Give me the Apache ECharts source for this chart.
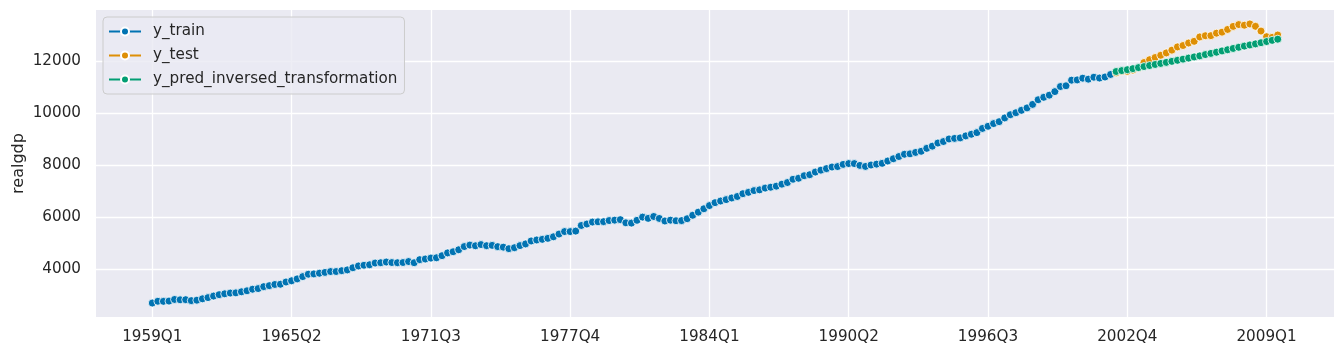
<!DOCTYPE html>
<html>
<head>
<meta charset="utf-8">
<script src="https://cdn.jsdelivr.net/npm/echarts@6/dist/echarts.min.js"></script>
<style>html,body{margin:0;padding:0;background:#fff}#c{width:1344px;height:356px}</style>
</head>
<body>
<div id="c"></div>
<script>
// realgdp by quarter, 1959Q1 .. 2002Q1 (train)
const yTrain = [
2710.349,2778.801,2775.488,2785.204,
2847.699,2834.390,2839.022,2802.616,
2819.264,2872.005,2918.419,2977.830,
3031.241,3064.709,3093.047,3100.563,
3141.087,3180.447,3240.332,3264.967,
3338.246,3376.587,3422.469,3431.957,
3516.251,3563.960,3636.285,3724.014,
3815.423,3828.124,3853.301,3884.520,
3918.740,3919.556,3950.826,3980.970,
4063.013,4131.998,4160.267,4178.293,
4244.100,4256.460,4283.378,4263.261,
4256.573,4264.289,4302.259,4256.637,
4374.016,4398.829,4433.943,4446.264,
4525.769,4633.101,4677.503,4754.046,
4876.166,4932.571,4906.252,4953.050,
4909.617,4922.188,4873.520,4854.340,
4795.295,4831.942,4913.328,4977.511,
5090.695,5128.947,5154.072,5191.499,
5251.762,5356.131,5451.921,5450.793,
5469.405,5684.569,5740.300,5816.222,
5825.949,5831.418,5873.335,5889.495,
5908.467,5787.373,5776.617,5883.026,
6005.717,5957.795,6030.184,5955.062,
5857.333,5889.074,5866.370,5871.001,
5944.020,6077.619,6197.468,6325.574,
6448.264,6559.594,6623.343,6677.264,
6740.275,6797.344,6903.523,6955.918,
7022.757,7050.969,7118.950,7153.359,
7193.019,7269.510,7332.558,7458.022,
7496.600,7592.881,7632.082,7733.991,
7806.603,7865.016,7927.393,7944.697,
8027.693,8059.598,8059.476,7988.864,
7950.164,8003.822,8037.538,8069.046,
8157.616,8244.294,8329.361,8417.016,
8432.485,8486.435,8531.108,8643.769,
8727.919,8847.303,8904.289,9003.180,
9025.267,9044.668,9120.684,9184.275,
9247.188,9407.052,9488.879,9592.458,
9666.235,9809.551,9932.672,10008.874,
10103.425,10194.277,10328.787,10507.575,
10601.179,10684.049,10819.914,11014.254,
11043.044,11258.454,11267.867,11334.544,
11297.171,11371.251,11340.075,11380.128,
11477.868
];
// 2002Q2 .. 2009Q3 (test)
const yTest = [
11538.770,11596.430,11598.824,
11645.819,11738.706,11935.461,12042.817,
12127.623,12213.818,12303.533,12410.282,
12534.113,12587.535,12683.153,12748.699,
12915.938,12962.462,12965.916,13060.679,
13099.901,13203.977,13321.109,13391.249,
13366.865,13415.266,13324.600,13141.920,
12925.410,12901.504,12990.341
];
const yPred = [
11590,11625,11660,11700,11740,11780,11820,11860,11900,11940,
11980,12020,12065,12105,12150,12190,12240,12285,12330,12380,
12425,12475,12520,12565,12610,12650,12695,12740,12785,12830
];
const xTickPos = [0,25,50,75,100,125,150,175,200];
const xTickLabels = ['1959Q1','1965Q2','1971Q3','1977Q4','1984Q1','1990Q2','1996Q3','2002Q4','2009Q1'];
const yTicks = [4000,6000,8000,10000,12000];

const trainStart = 0;
const testStart = yTrain.length;
const toPairs = (arr, start) => arr.map((v, i) => [start + i, v]);

const C_BLUE = '#0173B2', C_ORANGE = '#DE8F05', C_GREEN = '#029E73';
const font = 'DejaVu Sans';
const FS = 15.2;
const mkSeries = (name, data, color) => ({
  name, type: 'line', data,
  symbol: 'circle', symbolSize: 8, showSymbol: true,
  lineStyle: {color, width: 2},
  itemStyle: {color, borderColor: '#ffffff', borderWidth: 0.8},
  emphasis: {disabled: true},
  animation: false
});

const chart = echarts.init(document.getElementById('c'), null, {renderer: 'canvas'});
chart.setOption({
  backgroundColor: '#ffffff',
  animation: false,
  grid: {left: 96, right: 10, top: 10, bottom: 39, show: true, backgroundColor: '#EAEAF2', borderWidth: 0,
         containLabel: false, outerBoundsMode: 'none'},
  legend: {
    left: 103, top: 17, orient: 'vertical',
    padding: [6, 7, 6, 5], itemGap: 7, itemWidth: 32, itemHeight: 10,
    backgroundColor: 'rgba(234,234,242,0.8)', borderColor: '#cccccc', borderWidth: 1, borderRadius: 4,
    textStyle: {fontFamily: font, fontSize: FS, color: '#262626', padding: [0, 0, 0, 7], lineHeight: 17},
    data: ['y_train', 'y_test', 'y_pred_inversed_transformation']
  },
  xAxis: {
    type: 'value', min: -10.1, max: 212.1,
    axisLine: {show: false}, axisTick: {show: false, customValues: xTickPos},
    splitLine: {show: true, lineStyle: {color: '#ffffff', width: 1.3}},
    axisLabel: {
      customValues: xTickPos, margin: 13,
      fontFamily: font, fontSize: FS, color: '#262626',
      formatter: v => xTickLabels[xTickPos.indexOf(Math.round(v))] || ''
    }
  },
  yAxis: {
    type: 'value', min: 2175, max: 13950,
    name: 'realgdp', nameLocation: 'middle', nameGap: 69, nameMoveOverlap: false,
    nameTextStyle: {fontFamily: font, fontSize: 16, color: '#262626'},
    axisLine: {show: false}, axisTick: {show: false, customValues: yTicks},
    splitLine: {show: true, lineStyle: {color: '#ffffff', width: 1.3}},
    axisLabel: {customValues: yTicks, margin: 15, fontFamily: font, fontSize: FS, color: '#262626',
                formatter: v => String(Math.round(v))}
  },
  series: [
    mkSeries('y_train', toPairs(yTrain, trainStart), C_BLUE),
    mkSeries('y_test', toPairs(yTest, testStart), C_ORANGE),
    mkSeries('y_pred_inversed_transformation', toPairs(yPred, testStart), C_GREEN)
  ]
});
</script>
</body>
</html>
